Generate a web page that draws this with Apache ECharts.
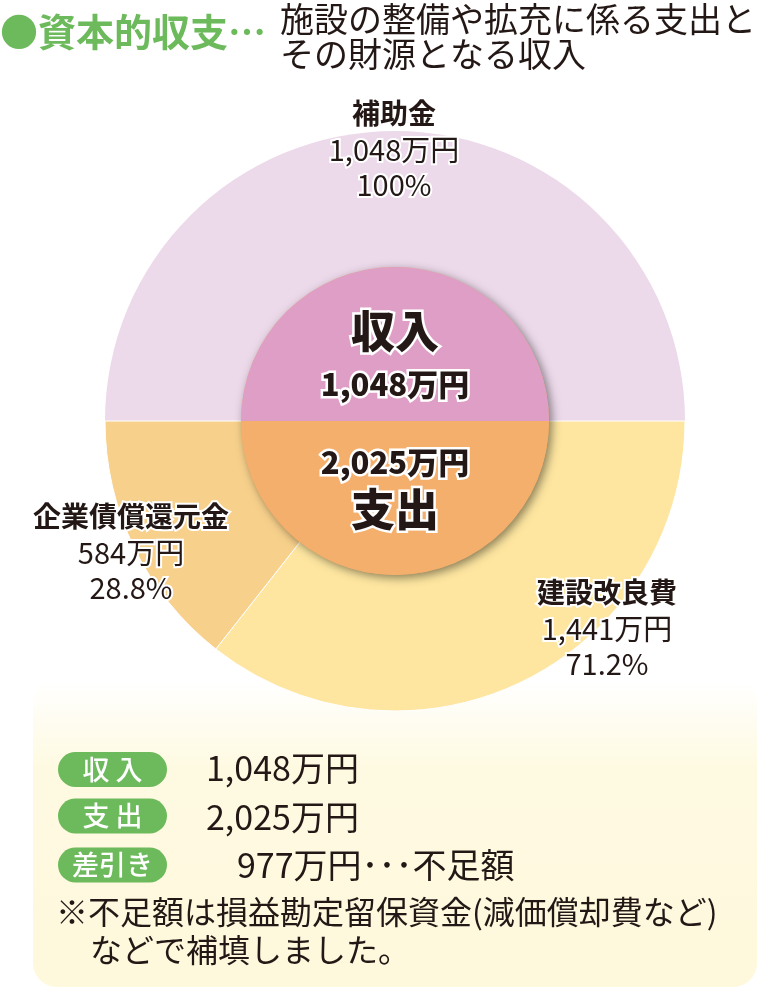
<!DOCTYPE html>
<html><head><meta charset="utf-8">
<script src="https://cdn.jsdelivr.net/npm/echarts@6/dist/echarts.min.js"></script>
<style>html,body{margin:0;padding:0;background:#fff}#c{width:761px;height:992px}</style>
</head><body><div id="c"></div>
<script>
// ---- data ----
const categories = ['補助金', '建設改良費', '企業債償還元金'];
const amounts = [1048, 1441, 584];          // 万円
const shares = [100, 71.2, 28.8];           // % within income / expense half
const innerNames = ['収入', '支出'];
const innerTotals = [1048, 2025];           // 万円
const deficit = 977;                        // 万円
const pillLabels = ['収 入', '支 出', '差引き'];
const titleText = '●資本的収支…';
const subtitleLines = ['施設の整備や拡充に係る支出と', 'その財源となる収入'];
const noteLines = ['※不足額は損益勘定留保資金(減価償却費など)', 'などで補填しました。'];

// ---- styles ----
const FONT = '"Noto Sans CJK JP", "Noto Sans", sans-serif';
const DARK = '#231815';
const GREEN = '#6cba5b';
const outerColors = ['#ecd9ea', '#fee6a0', '#f7d08b'];
const innerColors = ['#de9ec6', '#f3af6b'];
const fmt = v => v.toLocaleString('en-US');

const chart = echarts.init(document.getElementById('c'), null, {renderer: 'canvas'});
const C = [395, 421];

function txt(text, x, y, size, weight, opt) {
  opt = opt || {};
  return {
    type: 'text', z: opt.z || 20, x: x, y: y,
    style: Object.assign({
      text: text, font: weight + ' ' + size + 'px ' + FONT,
      fill: opt.fill || DARK, align: opt.align || 'center', verticalAlign: 'middle'
    }, opt.outline ? {stroke: '#fff', lineWidth: opt.outline} : {})
  };
}

const graphics = [];
// background box
graphics.push({
  type: 'rect', z: 0, shape: {x: 33, y: 680, width: 724, height: 307, r: 24},
  style: {fill: new echarts.graphic.LinearGradient(0, 0, 0, 1, [
    {offset: 0, color: '#ffffff'}, {offset: 0.28, color: '#fefae2'}, {offset: 1, color: '#fef8dc'}])}
});
// title
graphics.push(txt(titleText, 0, 32, 38, 'bold', {align: 'left', fill: GREEN}));
subtitleLines.forEach((s, i) => graphics.push(txt(s, 280, 19 + i * 35, 34, 'normal', {align: 'left'})));

// outer labels
const labelPos = [[394, 113], [607, 592], [131, 516]];
categories.forEach((c, i) => {
  const [x, y] = labelPos[i];
  graphics.push(txt(c, x, y, 28, 'bold', {outline: 4}));
  graphics.push(txt(fmt(amounts[i]) + '万円', x, y + 37, 29, 'normal', {outline: 4}));
  graphics.push(txt(shares[i] + '%', x, y + 72, 29, 'normal', {outline: 4}));
});
// inner labels
graphics.push(txt(innerNames[0], 395, 331, 44, '900', {outline: 5, z: 30}));
graphics.push(txt(fmt(innerTotals[0]) + '万円', 395, 384, 31, '900', {outline: 5, z: 30}));
graphics.push(txt(fmt(innerTotals[1]) + '万円', 395, 462, 31, '900', {outline: 5, z: 30}));
graphics.push(txt(innerNames[1], 395, 509, 44, '900', {outline: 5, z: 30}));

// pills and values
const rowY = [769.5, 816, 865];
pillLabels.forEach((p, i) => {
  graphics.push({type: 'rect', z: 10, shape: {x: 58, y: rowY[i] - 17.5, width: 109, height: 35, r: 17.5}, style: {fill: GREEN}});
  graphics.push(txt(p, 112.5, rowY[i], 27, '500', {z: 20, fill: '#fff'}));
});
graphics.push(txt(fmt(innerTotals[0]) + '万円', 206, 768, 34, 'normal', {align: 'left'}));
graphics.push(txt(fmt(innerTotals[1]) + '万円', 206, 817, 34, 'normal', {align: 'left'}));
graphics.push(txt(fmt(deficit) + '万円･･･不足額', 237, 865, 34, 'normal', {align: 'left'}));
graphics.push(txt(noteLines[0], 56, 912, 32, 'normal', {align: 'left'}));
graphics.push(txt(noteLines[1], 90, 950, 32, 'normal', {align: 'left'}));

chart.setOption({
  animation: false,
  backgroundColor: '#fff',
  graphic: graphics,
  series: [
    {
      type: 'pie', z: 2, center: C, radius: [0, 290], startAngle: 180, clockwise: true,
      silent: true, label: {show: false}, labelLine: {show: false},
      data: categories.map((c, i) => ({
        name: c, value: shares[i],
        itemStyle: {color: outerColors[i], borderColor: i === 0 ? outerColors[0] : '#fff', borderWidth: i === 0 ? 0 : 1}
      }))
    },
    {
      type: 'pie', z: 3, center: C, radius: [0, 154], silent: true,
      label: {show: false}, labelLine: {show: false},
      data: [{name: 'shadow', value: 1, itemStyle: {color: innerColors[1], shadowBlur: 10, shadowColor: 'rgba(0,0,0,0.45)', shadowOffsetX: 3, shadowOffsetY: 3}}]
    },
    {
      type: 'pie', z: 4, center: C, radius: [0, 154], startAngle: 180, clockwise: true, silent: true,
      label: {show: false}, labelLine: {show: false},
      data: innerNames.map((n, i) => ({name: n, value: 100, itemStyle: {color: innerColors[i]}}))
    }
  ]
});
</script></body></html>
